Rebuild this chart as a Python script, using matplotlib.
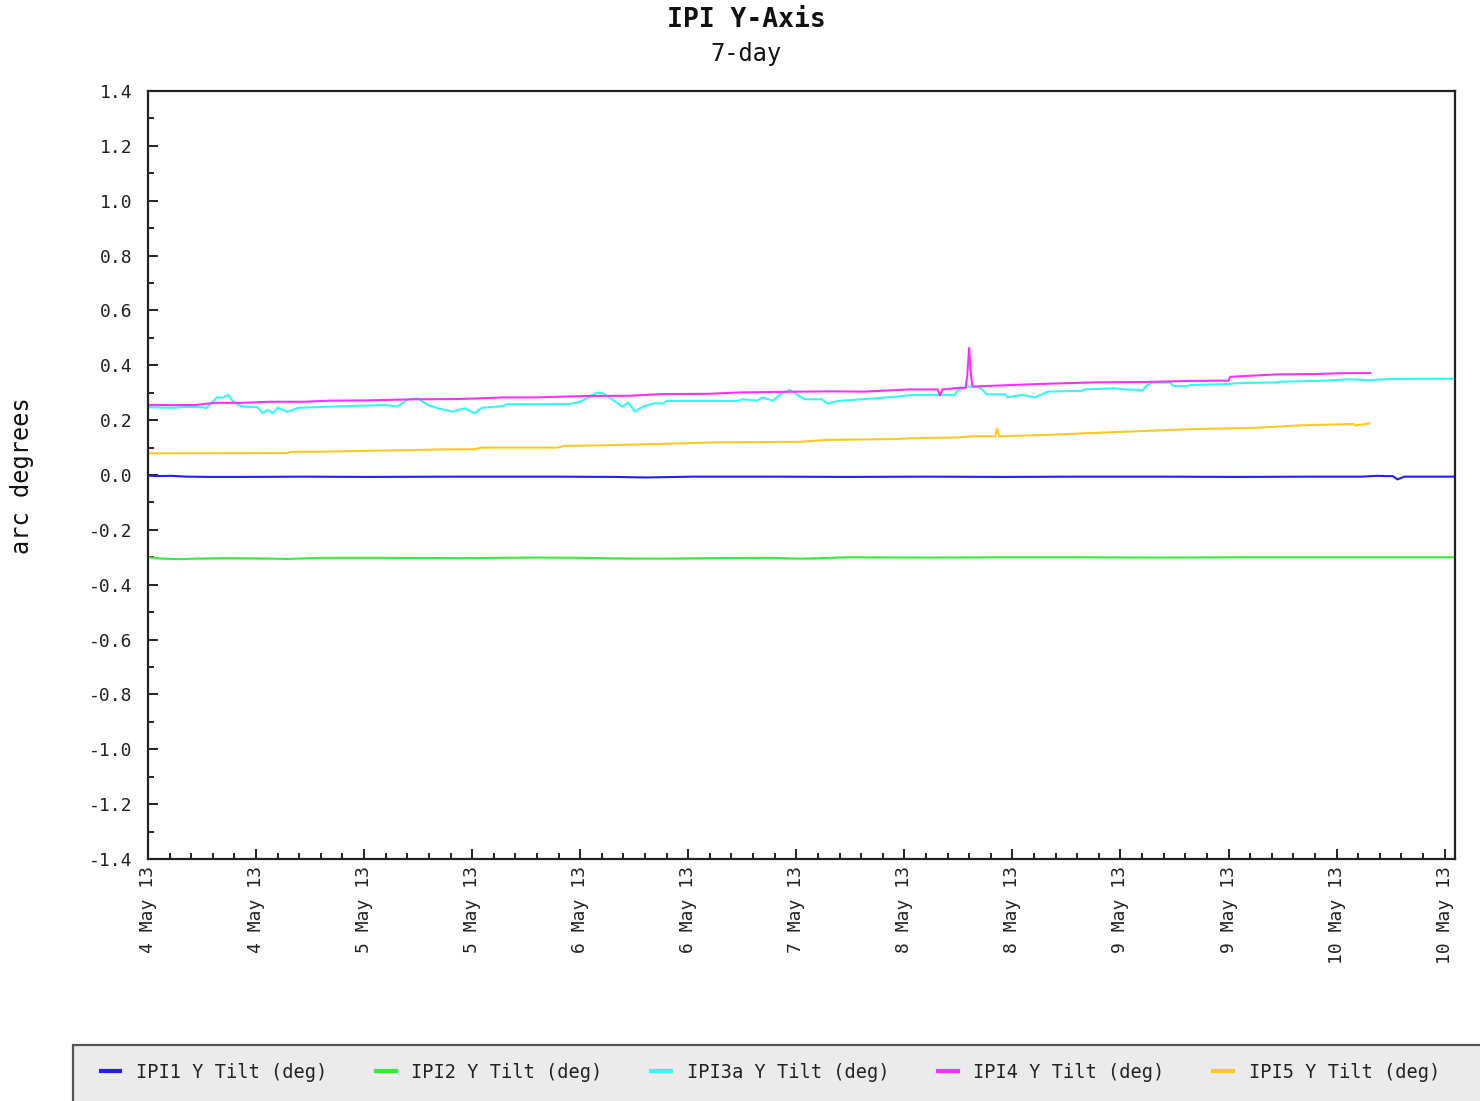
import numpy as np
import matplotlib
matplotlib.use("Agg")
import matplotlib.pyplot as plt
from matplotlib.patches import Rectangle
from matplotlib.ticker import MultipleLocator


# hours since start of the 7-day window
ipi1_t = [0, 1, 3, 5, 8, 12, 20, 28, 40, 52, 60, 64, 70, 80, 90, 100, 110,
          120, 130, 140, 150, 156, 158, 159, 160, 160.6, 161.5, 168]
ipi1_v = [-0.002, -0.004, -0.003, -0.006, -0.007, -0.007, -0.006, -0.007,
          -0.006, -0.006, -0.007, -0.009, -0.006, -0.006, -0.007, -0.006,
          -0.007, -0.006, -0.006, -0.007, -0.006, -0.006, -0.003, -0.004,
          -0.004, -0.016, -0.006, -0.006]

ipi2_t = [0, 2, 4, 6, 10, 14, 18, 22, 30, 40, 50, 56, 60, 66, 72, 80, 84,
          90, 100, 110, 120, 130, 140, 150, 160, 168]
ipi2_v = [-0.300, -0.305, -0.307, -0.305, -0.303, -0.304, -0.306, -0.302,
          -0.302, -0.303, -0.301, -0.302, -0.304, -0.305, -0.303, -0.302,
          -0.305, -0.300, -0.301, -0.300, -0.300, -0.301, -0.300, -0.300,
          -0.300, -0.300]

ipi3a_t = [0, 3, 5, 7, 7.5, 8.9, 9.5, 10.3, 10.9, 11.6, 12.5, 14.1, 14.7,
           15.4, 16.1, 16.7, 17.9, 19.3, 25.3, 30.5, 32.1, 33.4, 34.7, 36.0,
           37.3, 39.2, 40.7, 42.0, 42.9, 45.6, 46.1, 54.2, 55.5, 56.4, 57.7,
           58.5, 59.8, 61.0, 61.7, 62.6, 63.6, 64.9, 66.2, 66.7, 75.7, 76.5,
           78.3, 79.0, 80.3, 81.5, 82.5, 83.5, 84.4, 86.6, 87.3, 87.9, 88.7,
           91.8, 96.4, 98.2, 103.7, 104.1, 105.4, 106.6, 107.2, 107.8, 110.2,
           110.5, 112.3, 114.0, 115.7, 120.1, 120.4, 124.3, 125.5, 127.9,
           128.4, 129.2, 131.4, 131.8, 133.5, 134.0, 139.1, 139.5, 145.1,
           145.5, 151.5, 154.1, 157.0, 160.0, 168.0]
ipi3a_v = [0.247, 0.245, 0.248, 0.247, 0.244, 0.284, 0.281, 0.292, 0.270,
           0.255, 0.249, 0.247, 0.226, 0.237, 0.226, 0.245, 0.230, 0.245,
           0.251, 0.255, 0.250, 0.276, 0.279, 0.255, 0.243, 0.231, 0.243,
           0.225, 0.245, 0.251, 0.258, 0.259, 0.267, 0.279, 0.300, 0.298,
           0.273, 0.249, 0.264, 0.231, 0.249, 0.261, 0.261, 0.270, 0.270,
           0.276, 0.271, 0.283, 0.271, 0.298, 0.310, 0.292, 0.276, 0.276,
           0.261, 0.264, 0.270, 0.276, 0.286, 0.292, 0.292, 0.310, 0.322,
           0.322, 0.312, 0.294, 0.294, 0.283, 0.292, 0.283, 0.304, 0.307,
           0.312, 0.316, 0.312, 0.310, 0.328, 0.337, 0.337, 0.324, 0.324,
           0.328, 0.332, 0.334, 0.338, 0.340, 0.344, 0.349, 0.346, 0.350,
           0.351]

ipi4_t = [0, 6, 8.6, 12, 15.7, 20, 23.4, 28, 34.3, 40, 45.9, 50, 56.2, 62,
          66.1, 72, 76.1, 83.8, 88, 92, 97.9, 101.5, 101.8, 102.1, 104.4,
          105.1, 105.3, 105.55, 105.8, 106.0, 107.3, 114.7, 122, 128, 133.9,
          138.9, 139.1, 145.2, 150, 153.2, 157.1]
ipi4_v = [0.255, 0.255, 0.263, 0.263, 0.267, 0.267, 0.271, 0.272, 0.276,
          0.277, 0.283, 0.283, 0.288, 0.289, 0.295, 0.296, 0.301, 0.304,
          0.305, 0.304, 0.312, 0.312, 0.290, 0.312, 0.318, 0.318, 0.360,
          0.463, 0.360, 0.322, 0.324, 0.332, 0.338, 0.339, 0.343, 0.344,
          0.358, 0.367, 0.368, 0.371, 0.372]

ipi5_t = [0, 17.9, 18.5, 21.9, 34.3, 37.3, 42.0, 42.9, 52.6, 53.6, 59.8,
          65.4, 73.1, 83.8, 87.3, 96.0, 98.2, 104.1, 105.9, 108.9, 109.15,
          109.4, 115.3, 122.1, 129.4, 134.0, 135.2, 142.5, 148.1, 154.9,
          155.3, 157.0]
ipi5_v = [0.079, 0.080, 0.085, 0.085, 0.091, 0.093, 0.094, 0.100, 0.100,
          0.106, 0.109, 0.113, 0.119, 0.121, 0.128, 0.131, 0.134, 0.137,
          0.141, 0.141, 0.170, 0.141, 0.146, 0.154, 0.162, 0.167, 0.168,
          0.172, 0.181, 0.186, 0.181, 0.188]

names = ["IPI1 Y Tilt (deg)", "IPI2 Y Tilt (deg)", "IPI3a Y Tilt (deg)",
         "IPI4 Y Tilt (deg)", "IPI5 Y Tilt (deg)"]
colors = ["#2020ff", "#30f030", "#33f8f8", "#ff30ff", "#ffc820"]

y_ticks = [-1.4, -1.2, -1.0, -0.8, -0.6, -0.4, -0.2, 0.0,
           0.2, 0.4, 0.6, 0.8, 1.0, 1.2, 1.4]
tick_labels = ["4 May 13", "4 May 13", "5 May 13", "5 May 13", "6 May 13",
               "6 May 13", "7 May 13", "8 May 13", "8 May 13", "9 May 13",
               "9 May 13", "10 May 13", "10 May 13"]
tick_step_h = 50000 / 3600.0  # ticks every 50000 s


def main():
    plt.rcParams['font.family'] = ['DejaVu Sans Mono', 'DejaVu Sans']
    fig = plt.figure(figsize=(14.8, 11.01), dpi=100)
    ax = fig.add_axes([148 / 1480, 1 - 859 / 1101,
                       (1455 - 148) / 1480, (859 - 91) / 1101])

    series = [(ipi1_t, ipi1_v), (ipi2_t, ipi2_v), (ipi3a_t, ipi3a_v),
              (ipi4_t, ipi4_v), (ipi5_t, ipi5_v)]
    for (t, v), name, c in zip(series, names, colors):
        ax.plot(t, v, color=c, lw=1.5, label=name)

    ax.set_xlim(0, 168)
    ax.set_ylim(-1.4, 1.4)
    ax.set_yticks(y_ticks)
    ax.set_yticklabels(["%.1f" % v for v in y_ticks])
    ax.yaxis.set_minor_locator(MultipleLocator(0.1))
    ax.set_xticks(np.arange(len(tick_labels)) * tick_step_h)
    ax.set_xticklabels(tick_labels, rotation=90, va='top')
    ax.xaxis.set_minor_locator(MultipleLocator(tick_step_h / 5))

    ax.tick_params(which='both', direction='in', colors='#222222',
                   labelcolor='#222222', labelsize=13, width=1.4)
    ax.tick_params(axis='y', which='major', length=7.5, pad=11)
    ax.tick_params(axis='y', which='minor', length=4.5)
    ax.tick_params(axis='x', which='major', length=7, pad=5)
    ax.tick_params(axis='x', which='minor', length=4)
    for s in ax.spines.values():
        s.set_color('#222222')
        s.set_linewidth(1.6)

    fig.text(746 / 1480, 1 - 20 / 1101, "IPI Y-Axis", ha='center',
             va='center', fontsize=19, fontweight='bold', color='#111111')
    fig.text(746 / 1480, 1 - 54 / 1101, "7-day", ha='center', va='center',
             fontsize=17, color='#111111')
    fig.text(22 / 1480, 1 - 476 / 1101, "arc degrees", rotation=90,
             ha='center', va='center', fontsize=17, color='#111111')

    # legend box, runs off the right edge like the original
    fig.patches.append(Rectangle((73 / 1480, -0.01), 1.0, 0.0609,
                                 transform=fig.transFigure,
                                 facecolor='#ebebeb', edgecolor='#555555',
                                 lw=1.6, zorder=0))
    handles, labels = ax.get_legend_handles_labels()
    leg = fig.legend(handles, labels, loc='center left', ncol=5,
                     bbox_to_anchor=(84 / 1480, 1 - 1072 / 1101),
                     frameon=False, fontsize=13.4, handlelength=1.05,
                     handletextpad=0.85, columnspacing=2.62)
    for h in leg.get_lines():
        h.set_linewidth(3)
    for tx in leg.get_texts():
        tx.set_color('#222222')

    fig.savefig("out.png", dpi=100)


if __name__ == '__main__':
    main()
